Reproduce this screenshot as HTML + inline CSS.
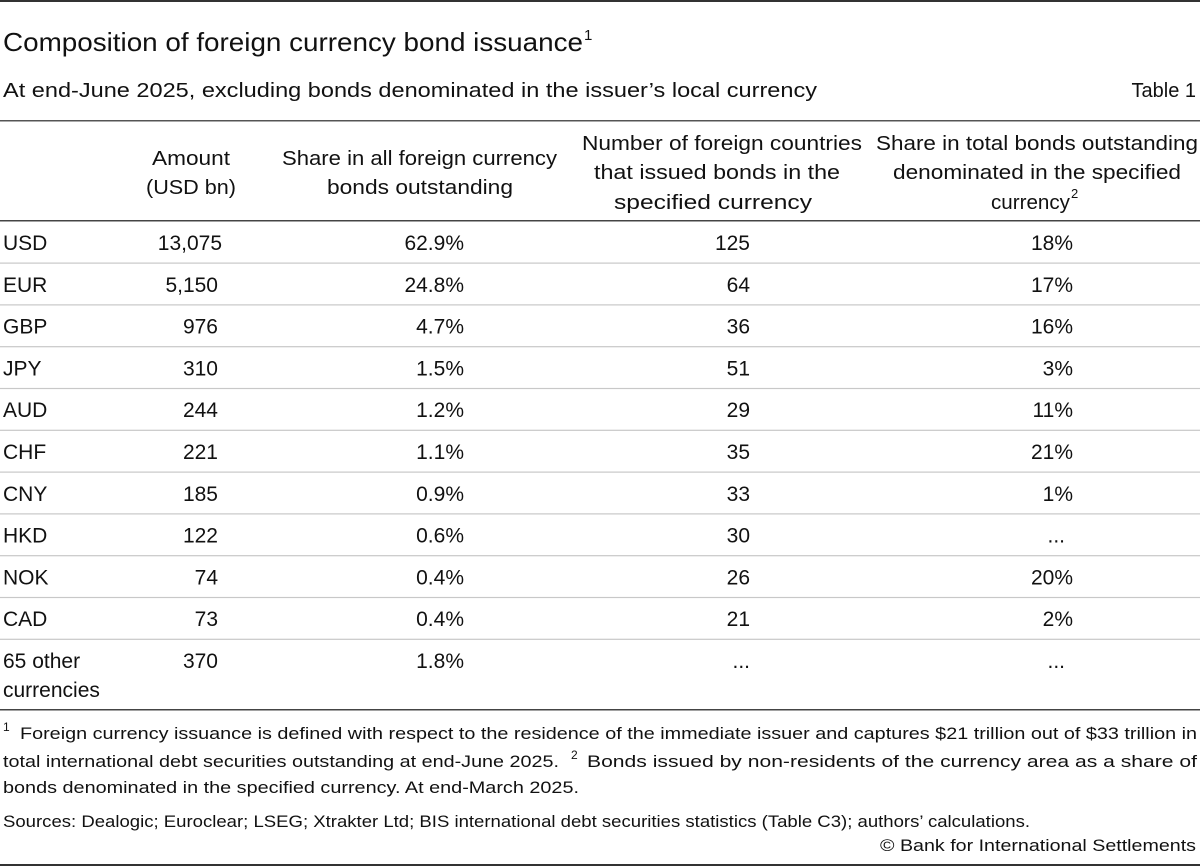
<!DOCTYPE html>
<html><head><meta charset="utf-8"><style>
html,body{margin:0;padding:0;background:#fff}
svg{display:block;font-family:"Liberation Sans",sans-serif;fill:#111}
</style></head><body>
<svg id="s" width="1200" height="867" viewBox="0 0 1200 867">
<rect x="0" y="0" width="1200" height="2" fill="#333"/>
<text x="3" y="51" font-size="26" textLength="580" lengthAdjust="spacingAndGlyphs">Composition of foreign currency bond issuance</text>
<text x="584" y="40" font-size="15">1</text>
<text x="3" y="97" font-size="20" textLength="814" lengthAdjust="spacingAndGlyphs">At end-June 2025, excluding bonds denominated in the issuer’s local currency</text>
<text x="1196" y="97" font-size="20" text-anchor="end">Table 1</text>
<rect x="0" y="120" width="1200" height="1.5" fill="#555"/>
<g font-size="20">
<text x="152" y="165" textLength="78" lengthAdjust="spacingAndGlyphs">Amount</text>
<text x="146" y="194" textLength="90" lengthAdjust="spacingAndGlyphs">(USD bn)</text>
<text x="282" y="165" textLength="275" lengthAdjust="spacingAndGlyphs">Share in all foreign currency</text>
<text x="327" y="194" textLength="186" lengthAdjust="spacingAndGlyphs">bonds outstanding</text>
<text x="582" y="150" textLength="280" lengthAdjust="spacingAndGlyphs">Number of foreign countries</text>
<text x="594" y="179" textLength="246" lengthAdjust="spacingAndGlyphs">that issued bonds in the</text>
<text x="614" y="209" textLength="198" lengthAdjust="spacingAndGlyphs">specified currency</text>
<text x="876" y="150" textLength="322" lengthAdjust="spacingAndGlyphs">Share in total bonds outstanding</text>
<text x="893" y="179" textLength="288" lengthAdjust="spacingAndGlyphs">denominated in the specified</text>
<text x="991" y="209" textLength="79" lengthAdjust="spacingAndGlyphs">currency</text>
<text x="1071" y="198" font-size="13">2</text>
</g>
<rect x="0" y="220" width="1200" height="1.5" fill="#444"/>
<g id="seps"></g>
<g id="rows" font-size="21"></g>
<rect x="0" y="709" width="1200" height="1.5" fill="#444"/>
<g font-size="17">
<text x="3" y="731" font-size="12">1</text>
<text x="20" y="739" textLength="1177" lengthAdjust="spacingAndGlyphs">Foreign currency issuance is defined with respect to the residence of the immediate issuer and captures $21 trillion out of $33 trillion in</text>
<text x="3" y="767" textLength="556" lengthAdjust="spacingAndGlyphs">total international debt securities outstanding at end-June 2025.</text>
<text x="571" y="759" font-size="12">2</text>
<text x="587" y="767" textLength="610" lengthAdjust="spacingAndGlyphs">Bonds issued by non-residents of the currency area as a share of</text>
<text x="3" y="793" textLength="576" lengthAdjust="spacingAndGlyphs">bonds denominated in the specified currency. At end-March 2025.</text>
<text x="3" y="827" textLength="1027" lengthAdjust="spacingAndGlyphs">Sources: Dealogic; Euroclear; LSEG; Xtrakter Ltd; BIS international debt securities statistics (Table C3); authors’ calculations.</text>
<text x="1196" y="851" text-anchor="end" textLength="316" lengthAdjust="spacingAndGlyphs">© Bank for International Settlements</text>
</g>
<rect x="0" y="864" width="1200" height="2" fill="#333"/>
</svg>
<script>
const currencies = ["USD","EUR","GBP","JPY","AUD","CHF","CNY","HKD","NOK","CAD","65 other"];
const amounts = ["13,075","5,150","976","310","244","221","185","122","74","73","370"];
const shareAll = ["62.9%","24.8%","4.7%","1.5%","1.2%","1.1%","0.9%","0.6%","0.4%","0.4%","1.8%"];
const countries = ["125","64","36","51","29","35","33","30","26","21","..."];
const shareTotal = ["18%","17%","16%","3%","11%","21%","1%","...","20%","2%","..."];
const NS="http://www.w3.org/2000/svg";
const g=document.getElementById('rows');
const sg=document.getElementById('seps');
function t(x,y,s,anchor){
  const e=document.createElementNS(NS,'text');
  e.setAttribute('x',x);e.setAttribute('y',y);
  e.setAttribute('text-anchor',anchor);
  e.textContent=s;g.appendChild(e);return e;
}
currencies.forEach((c,i)=>{
  const y=250+i*41.8;
  if(i<currencies.length-1){
    const r=document.createElementNS(NS,'rect');
    r.setAttribute('x',0);r.setAttribute('y',262.5+i*41.8);
    r.setAttribute('width',1200);r.setAttribute('height',1.2);
    r.setAttribute('fill','#c8c8c8');
    
    
    sg.appendChild(r);
  }
  const a=t(3,y,c,'start');
  
  
  const b=t(i===0?222:218,y,amounts[i],'end');
  
  
  const d=t(464,y,shareAll[i],'end');
  
  
  const e=t(750,y,countries[i],'end');
  
  
  const f=t(shareTotal[i]==="..."?1065:1073,y,shareTotal[i],'end');
  
  
  if(i===currencies.length-1){
    const h=t(3,y+29,'currencies','start');
    
    
  }
});
</script>
</body></html>
